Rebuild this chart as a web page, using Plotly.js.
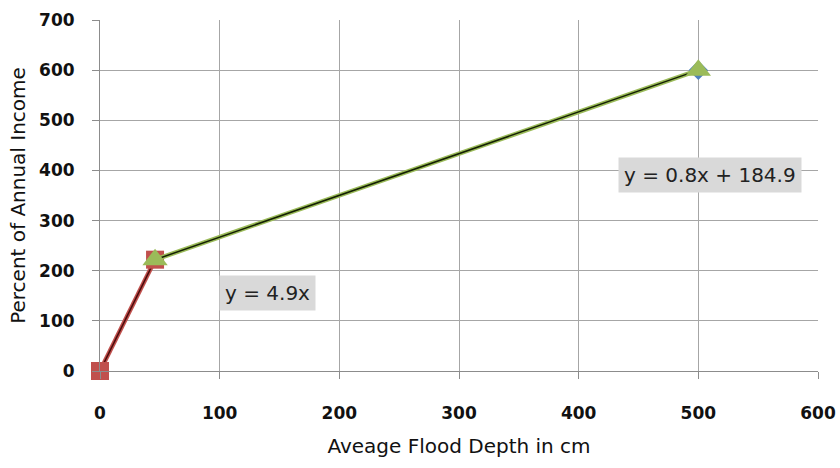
<!DOCTYPE html>
<html><head><meta charset="utf-8">
<script src="https://cdn.plot.ly/plotly-3.0.1.min.js"></script>
<style>body{margin:0;background:#fff}#c{width:840px;height:468px}</style>
</head><body><div id="c"></div>
<script>
// Data
const seriesAX = [500];          // blue diamond (mostly hidden under triangle)
const seriesAY = [600];
const shallowX = [0, 46];        // red squares
const shallowY = [0, 222];
const deepX = [46, 500];         // green triangles
const deepY = [222, 600];
const eq1 = "y = 4.9x";
const eq2 = "y = 0.8x + 184.9";
const xTicks = [0, 100, 200, 300, 400, 500, 600];
const yTicks = [0, 100, 200, 300, 400, 500, 600, 700];

const fam = "'DejaVu Sans', sans-serif";
const tickFont = {family: fam, size: 17, color: '#111', weight: 'bold'};
const titleFont = {family: fam, size: 20, color: '#111'};

const traces = [
  {x: seriesAX, y: seriesAY, mode: 'markers', marker: {symbol: 'diamond', size: 15, color: '#4f81bd'}, showlegend: false, cliponaxis: false},
  // red segment glow + dark core
  {x: shallowX, y: shallowY, mode: 'lines', line: {color: '#c0504d', width: 4.5}, showlegend: false},
  {x: shallowX, y: shallowY, mode: 'lines', line: {color: '#4a0c0c', width: 1.5}, showlegend: false},
  {x: shallowX, y: shallowY, mode: 'markers', marker: {symbol: 'square', size: 18, color: '#c0504d'}, showlegend: false, cliponaxis: false},
  // green segment glow + dark core
  {x: deepX, y: deepY, mode: 'lines', line: {color: '#9bbb59', width: 4.5}, showlegend: false},
  {x: deepX, y: deepY, mode: 'lines', line: {color: '#142003', width: 1.5}, showlegend: false},
  {x: deepX, y: deepY, mode: 'markers', marker: {symbol: 'triangle-up', size: 22, color: '#9bbb59'}, showlegend: false, cliponaxis: false}
];

const layout = {
  width: 840, height: 468,
  margin: {l: 100, r: 22, t: 20, b: 97},
  paper_bgcolor: '#fff', plot_bgcolor: '#fff',
  showlegend: false,
  xaxis: {
    range: [0, 600], tickvals: xTicks, ticktext: xTicks.map(String),
    showgrid: true, gridcolor: '#a6a6a6', gridwidth: 1,
    showline: true, linecolor: '#8c8c8c', linewidth: 1,
    ticks: 'outside', ticklen: 7, tickcolor: '#8c8c8c',
    ticklabelstandoff: 20,
    zeroline: false,
    tickfont: tickFont,
    title: {text: 'Aveage Flood Depth in cm', font: titleFont, standoff: 16}
  },
  yaxis: {
    range: [0, 700], tickvals: yTicks, ticktext: yTicks.map(String),
    showgrid: true, gridcolor: '#a6a6a6', gridwidth: 1,
    showline: true, linecolor: '#8c8c8c', linewidth: 1,
    ticks: 'outside', ticklen: 7, tickcolor: '#8c8c8c',
    ticklabelstandoff: 14,
    zeroline: false,
    tickfont: tickFont,
    title: {text: 'Percent of Annual Income', font: titleFont, standoff: 8}
  },
  annotations: [
    {x: 140, y: 155, xref: 'x', yref: 'y', text: eq1, showarrow: false,
     bgcolor: '#d9d9d9', borderpad: 5, font: {family: fam, size: 20, color: '#222'}},
    {x: 509.7, y: 391, xref: 'x', yref: 'y', text: eq2, showarrow: false,
     bgcolor: '#d9d9d9', borderpad: 5, font: {family: fam, size: 20, color: '#222'}}
  ]
};

Plotly.newPlot('c', traces, layout, {displayModeBar: false, staticPlot: true});
</script>
</body></html>
